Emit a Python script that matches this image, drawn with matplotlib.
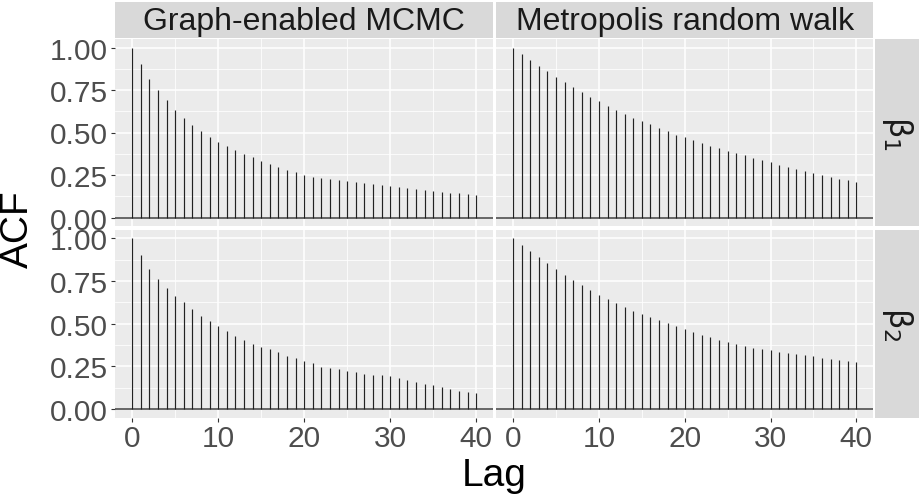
"""ACF facet plot: graph-enabled MCMC vs Metropolis random walk."""
import numpy as np
import matplotlib
matplotlib.use('Agg')
import matplotlib.pyplot as plt
import matplotlib as mpl

mpl.rcParams['font.family'] = ['Liberation Sans', 'DejaVu Sans']
mpl.rcParams['mathtext.fontset'] = 'custom'
mpl.rcParams['mathtext.rm'] = 'DejaVu Sans'

PANEL_BG = '#EBEBEB'; STRIP_BG = '#D9D9D9'; TICK_TXT = '#4D4D4D'; STRIP_TXT = '#1A1A1A'

lags = np.arange(41)
methods = ['Graph-enabled MCMC', 'Metropolis random walk']
params = [r'$\mathrm{\beta}_{1}$', r'$\mathrm{\beta}_{2}$']

gmcmc_b1 = [1.0, 0.902, 0.814, 0.75, 0.691, 0.633, 0.586, 0.545, 0.508, 0.475,
            0.445, 0.42, 0.396, 0.375, 0.357, 0.334, 0.314, 0.299, 0.281, 0.265,
            0.25, 0.238, 0.232, 0.227, 0.221, 0.215, 0.209, 0.203, 0.197, 0.193,
            0.186, 0.18, 0.176, 0.17, 0.164, 0.156, 0.15, 0.146, 0.143, 0.141, 0.135]
mrw_b1 = [1.0, 0.961, 0.926, 0.891, 0.859, 0.824, 0.795, 0.766, 0.738, 0.707,
          0.684, 0.656, 0.633, 0.609, 0.588, 0.568, 0.549, 0.527, 0.508, 0.488,
          0.471, 0.453, 0.4375, 0.422, 0.41, 0.393, 0.379, 0.365, 0.352, 0.338,
          0.324, 0.311, 0.299, 0.285, 0.273, 0.262, 0.252, 0.24, 0.229, 0.219, 0.209]
gmcmc_b2 = [1.0, 0.902, 0.82, 0.762, 0.709, 0.662, 0.625, 0.588, 0.547, 0.514,
            0.484, 0.457, 0.43, 0.406, 0.383, 0.365, 0.35, 0.332, 0.3125, 0.297,
            0.281, 0.268, 0.246, 0.238, 0.232, 0.225, 0.215, 0.207, 0.201, 0.197,
            0.191, 0.18, 0.168, 0.156, 0.146, 0.139, 0.127, 0.115, 0.104, 0.098, 0.094]
mrw_b2 = [1.0, 0.961, 0.924, 0.889, 0.854, 0.818, 0.783, 0.754, 0.725, 0.695,
          0.668, 0.643, 0.619, 0.596, 0.576, 0.557, 0.539, 0.521, 0.504, 0.486,
          0.469, 0.451, 0.434, 0.42, 0.404, 0.391, 0.379, 0.369, 0.359, 0.352,
          0.344, 0.336, 0.328, 0.322, 0.314, 0.309, 0.301, 0.295, 0.289, 0.283, 0.275]
acf = [[gmcmc_b1, mrw_b1], [gmcmc_b2, mrw_b2]]

W, H = 920, 502
fig = plt.figure(figsize=(W/100, H/100), dpi=100)

def box(x0, y0, x1, y1):
    # pixel box (top-left origin) -> figure fraction rect
    return [x0/W, 1 - y1/H, (x1 - x0)/W, (y1 - y0)/H]

cols = [(115, 493.3), (496, 873.5)]
rows = [(40, 227), (230.8, 418.5)]

for r, (y0, y1) in enumerate(rows):
    for c, (x0, x1) in enumerate(cols):
        ax = fig.add_axes(box(x0, y0, x1, y1))
        ax.set_facecolor(PANEL_BG)
        for s in ax.spines.values():
            s.set_visible(False)
        ax.set_xlim(-2, 42)
        ax.set_ylim(-0.05, 1.05)
        ax.set_xticks([0, 10, 20, 30, 40])
        ax.set_xticks([5, 15, 25, 35], minor=True)
        ax.set_yticks([0, 0.25, 0.5, 0.75, 1.0])
        ax.set_yticks([0.125, 0.375, 0.625, 0.875], minor=True)
        ax.grid(which='major', color='white', linewidth=1.1)
        ax.grid(which='minor', color='white', linewidth=0.55)
        ax.set_axisbelow(True)
        ax.tick_params(which='minor', length=0)
        ax.tick_params(which='major', length=3, width=0.8, color='#333333',
                       labelsize=21.5, labelcolor=TICK_TXT, pad=2)
        if c == 0:
            ax.set_yticklabels(['0.00', '0.25', '0.50', '0.75', '1.00'])
        else:
            ax.tick_params(axis='y', which='major', length=0, labelleft=False)
        if r == 0:
            ax.tick_params(axis='x', which='major', length=0, labelbottom=False)
        ax.axhline(0, color='#5a5a5a', linewidth=1.3, zorder=2)
        ax.vlines(lags, 0, acf[r][c], color='#222222', linewidth=0.85, zorder=3)

# column strips
for c, (x0, x1) in enumerate(cols):
    sa = fig.add_axes(box(x0, 3, x1, 39.3))
    sa.set_facecolor(STRIP_BG)
    sa.set_xticks([]); sa.set_yticks([])
    for s in sa.spines.values():
        s.set_visible(False)
    sa.text(0.5, 0.47, methods[c], ha='center', va='center', fontsize=23,
            color=STRIP_TXT, transform=sa.transAxes)

# row strips
for r, (y0, y1) in enumerate(rows):
    sa = fig.add_axes(box(875, y0, 920, y1))
    sa.set_facecolor(STRIP_BG)
    sa.set_xticks([]); sa.set_yticks([])
    for s in sa.spines.values():
        s.set_visible(False)
    sa.text(0.5, 0.5, params[r], ha='center', va='center', fontsize=23,
            color=STRIP_TXT, rotation=-90, transform=sa.transAxes)

fig.text(18/W, 1 - 229/H, 'ACF', rotation=90, ha='center', va='center',
         fontsize=28, color='black')
fig.text(494/W, 1 - 476/H, 'Lag', ha='center', va='center',
         fontsize=28, color='black')

fig.savefig('out.png', dpi=100)
